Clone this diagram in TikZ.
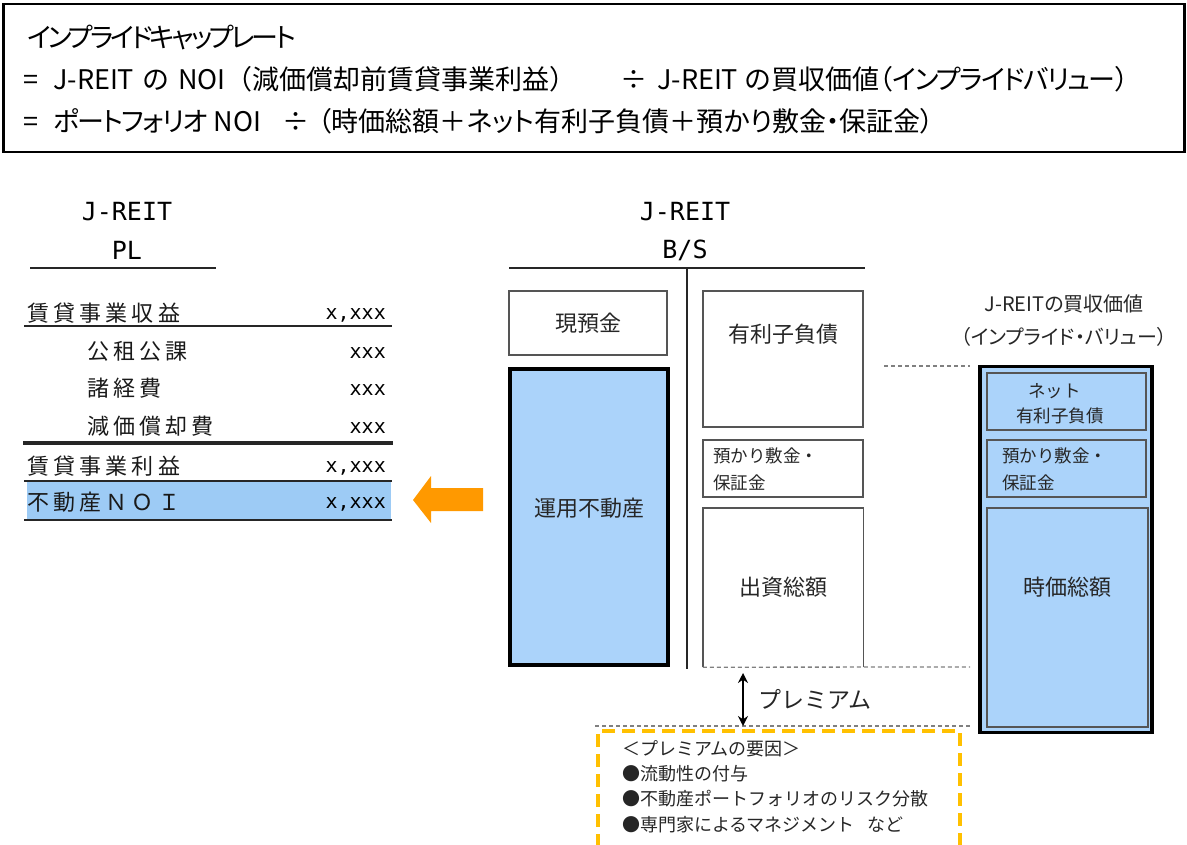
\documentclass[tikz,border=0pt]{standalone}
\usepackage{fontspec}
\newfontfamily\jp{Noto Sans CJK JP}
\newfontfamily\jpp[RawFeature=+palt]{Noto Sans CJK JP}
\newfontfamily\jppt[RawFeature=+palt,LetterSpace=-6]{Noto Sans CJK JP}
\newfontfamily\jpptt[RawFeature=+palt,LetterSpace=-11]{Noto Sans CJK JP}
\newfontfamily\jpw[LetterSpace=19]{Noto Sans CJK JP}
\newfontfamily\mono{DejaVu Sans Mono}
\newcommand{\fwp}[1]{{\jp #1}}
\newcommand{\tk}[1]{{\jppt #1}}
\newcommand{\ttk}[1]{{\jpptt #1}}
\usetikzlibrary{arrows.meta}
\definecolor{lblue}{HTML}{ABD3FA}
\definecolor{rowblue}{HTML}{9DCBF5}
\definecolor{orng}{HTML}{FF9900}
\definecolor{gold}{HTML}{FFC000}
\definecolor{boxgray}{HTML}{555555}
\tikzset{
  fs/.style 2 args={font=\jp\fontsize{#1}{#2}\selectfont},
  top/.style={inner sep=0pt, anchor=base west, text=black, font=\jpp\fontsize{27}{30}\selectfont},
  txt/.style={inner sep=0pt, text=black!85},
  bsbox/.style={draw=boxgray, line width=1.4pt, inner sep=0pt},
  blubox/.style={draw=black, line width=3.2pt, fill=lblue, inner sep=0pt},
  innerbox/.style={draw=boxgray, line width=1.4pt, fill=lblue, inner sep=0pt},
  gdash/.style={draw=gray, line width=1.3pt, dash pattern=on 4pt off 3pt},
  rule/.style={draw=black!85, line cap=rect},
  heading/.style={inner sep=0pt, font=\mono\fontsize{25}{30}\selectfont, text=black},
  num/.style={inner sep=0pt, anchor=east, font=\mono\fontsize{20}{24}\selectfont, text=black},
  pl/.style={inner sep=0pt, anchor=west, font=\jpw\fontsize{22}{26}\selectfont, text=black!90},
}
\begin{document}
\begin{tikzpicture}[x=1pt,y=-1pt]
\useasboundingbox (0,0) rectangle (1187,845);
% top formula box
\node[draw=black, line width=2.2pt, minimum width=1181pt, minimum height=148pt, inner sep=0pt] (formula) at (594,78) {};
\node[top] (f1) at (27,48) {\ttk{インプライドキャップレート}};
\node[top] (f2a) at (23,90) {=};
\node[top] (f2b) at (53,90) {J-REIT\hspace{9pt}の\hspace{9pt}NOI\fwp{（}減価償却前賃貸事業利益\fwp{）}};
\node[top] (f2c) at (620,90) {÷};
\node[top] (f2d) at (657,90) {J-REIT\hspace{7pt}の買収価値（\tk{インプライドバリュー}）};
\node[top] (f3a) at (23,132) {=};
\node[top] (f3b) at (53,132) {\tk{ポートフォリオ} NOI};
\node[top] (f3c) at (282,132) {÷};
\node[top] (f3d) at (318,132) {（時価総額＋ネット有利子負債＋預かり敷金・保証金）};

% PL
\node[heading] (plt1) at (127,212) {J-REIT};
\node[heading] (plt2) at (127,250) {PL};
\draw[rule, line width=1.6pt] (31,268) -- (215,268);
\fill[rowblue] (27,482) rectangle (391,519);
\node[pl] (r1) at (27,313) {賃貸事業収益};
\node[num] (n1) at (386,315) {x,xxx};
\node[pl] (r2) at (87,351) {公租公課};
\node[num] (n2) at (386,353) {xxx};
\node[pl] (r3) at (87,388) {諸経費};
\node[num] (n3) at (386,390) {xxx};
\node[pl] (r4) at (87,426) {減価償却費};
\node[num] (n4) at (386,428) {xxx};
\node[pl] (r5) at (27,466) {賃貸事業利益};
\node[num] (n5) at (386,468) {x,xxx};
\node[pl] (r6) at (27,502) {不動産ＮＯＩ};
\node[num] (n6) at (386,504) {x,xxx};
\draw[rule, line width=2.4pt] (25,326) -- (391,326);
\draw[rule, line width=3.4pt] (25,443) -- (391,443);
\draw[rule, line width=2.8pt] (25,481) -- (391,481);
\draw[rule, line width=2.4pt] (25,520) -- (391,520);

% orange arrow
\fill[orng] (413,500) -- (431,476) -- (431,488) -- (483,488) -- (483,511) -- (431,511) -- (431,523) -- cycle;

% B/S
\node[heading] (bst1) at (685,212) {J-REIT};
\node[heading] (bst2) at (685,250) {B/S};
\draw[rule, line width=1.6pt] (510,268) -- (864,268);
\draw[rule, line width=1.6pt] (687,268) -- (687,668);
\node[bsbox, minimum width=158pt, minimum height=64pt] (cash) at (588,323) {};
\node[txt, fs={22}{25}] (cashT) at (cash) {現預金};
\node[blubox, minimum width=158pt, minimum height=296pt] (prop) at (589,517) {};
\node[txt, fs={22}{25}] (propT) at (589,508) {運用不動産};
\node[bsbox, minimum width=160pt, minimum height=136pt] (debt) at (783,359) {};
\node[txt, fs={22}{25}] (debtT) at (783,334) {有利子負債};
\node[bsbox, minimum width=160pt, minimum height=57pt] (dep) at (783,468.5) {};
\node[txt, fs={17.5}{27}, anchor=west, align=left] (depT) at (713,469) {預かり敷金・\\保証金};
\node[minimum width=160pt, minimum height=159pt, inner sep=0pt] (eq) at (783,587.5) {};
\draw[boxgray, line width=1.4pt] (eq.south west) -- (eq.north west) -- (eq.north east) -- (eq.south east);
\node[txt, fs={22}{25}] (eqT) at (783,587) {出資総額};

% right stack
\node[txt, font=\jpp\fontsize{20}{33}\selectfont, align=center] (rt) at (1064,321) {J-REITの買収価値\\（インプライド・バリュー）};
\node[blubox, minimum width=172pt, minimum height=366pt] (iv) at (1066,549.5) {};
\node[innerbox, minimum width=159pt, minimum height=57pt] (net) at (1066.5,401.5) {};
\node[txt, fs={17.5}{25}, align=left, anchor=west] (netT) at (1016,404) {\hspace{0.7em}ネット\\有利子負債};
\node[innerbox, minimum width=159pt, minimum height=57pt] (dep2) at (1066.5,468.5) {};
\node[txt, fs={17.5}{27}, anchor=west, align=left] (dep2T) at (1002,469) {預かり敷金・\\保証金};
\node[innerbox, minimum width=161pt, minimum height=219pt] (mcap) at (1067.5,617.5) {};
\node[txt, fs={22}{25}] (mcapT) at (1067,587) {時価総額};

% dashed guides
\coordinate (g1) at (884,366);
\coordinate (g2) at (970,366);
\draw[gdash] (g1) -- (g2);
\coordinate (g3) at (970,667);
\draw[gdash] (eq.south west) -- (g3);
\coordinate (g4) at (595,726);
\coordinate (g5) at (970,726);
\draw[gdash] (g4) -- (g5);

% premium arrow
\coordinate (pa) at (743,673);
\coordinate (pb) at (743,726);
\draw[line width=1.4pt, {Stealth[length=10pt,width=10pt]}-{Stealth[length=10pt,width=10pt]}] (pa) -- (pb);
\node[txt, fs={23}{26}, anchor=west] (prem) at (758,699) {プレミアム};

% premium factors
\node[txt, fs={18}{25.3}, anchor=north west, align=left] (fac) at (622,740) {＜プレミアムの要因＞\\●流動性の付与\\●不動産ポートフォリオのリスク分散\\●専門家によるマネジメント\ \ \ など};
\draw[gold, line width=3.5pt, dash pattern=on 13pt off 7pt] (598,847) -- (598,731) -- (960,731) -- (960,847);
\end{tikzpicture}
\end{document}
